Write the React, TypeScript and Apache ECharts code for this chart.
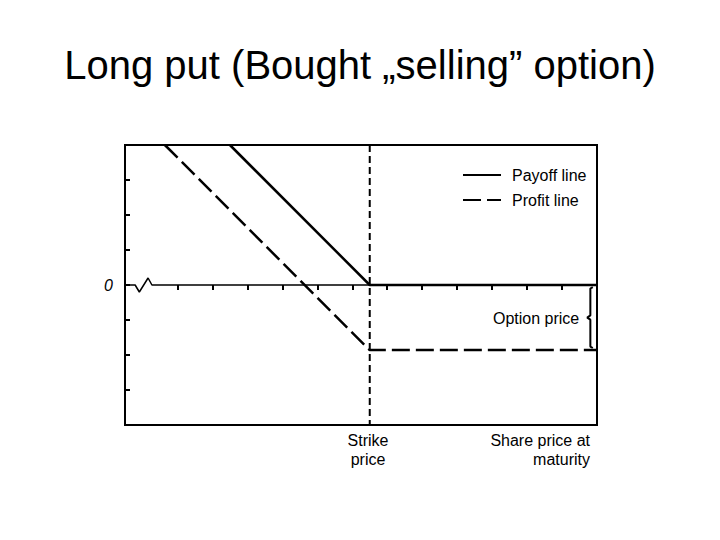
import React, { useEffect, useRef } from "react";
import * as echarts from "echarts";

// ---- data ----
const titleText = "Long put (Bought \u201Eselling\u201D option)";
const strikePrice = 7;
const optionPrice = 1.86;
const xRange = [0, 13.5];
const yRange = [-4, 4];
const xTickValues = [1.5, 2.5, 3.5, 4.5, 5.5, 6.5, 7.5, 8.5, 9.5, 10.5, 11.5, 12.5];
const payoffLine = [
  [3, 4],
  [7, 0],
  [13.5, 0],
];
const profitLine = [
  [1.14, 4],
  [7, -1.86],
  [13.5, -1.86],
];
// the broken start of the zero line (axis break squiggle)
const zeroLine = [
  [0, 0],
  [0.29, 0],
  [0.41, -0.2],
  [0.66, 0.2],
  [0.77, 0],
  [13.5, 0],
];
const strikeLine = [
  [7, 4],
  [7, -4],
];
const seriesNames = ["Payoff line", "Profit line"];
const xLabels = ["Strike\nprice", "Share price at\nmaturity"];
const bracketLabel = "Option price";

const FONT = "'Liberation Sans', Arial, sans-serif";

export default function App() {
  const ref = useRef<HTMLDivElement>(null);
  useEffect(() => {
    document.body.style.margin = "0";
    const chart = echarts.init(ref.current!, null, { renderer: "svg" });
    const bx = 13.31;
    const bracket = [
      [bx + 0.07, -0.06],
      [bx, -0.1],
      [bx, -optionPrice / 2 + 0.06],
      [bx - 0.09, -optionPrice / 2],
      [bx, -optionPrice / 2 - 0.06],
      [bx, -optionPrice + 0.1],
      [bx + 0.07, -optionPrice + 0.06],
    ];
    chart.setOption({
      animation: false,
      title: {
        text: titleText,
        left: "center",
        top: 40,
        textStyle: { fontFamily: FONT, fontSize: 40, fontWeight: "normal", color: "#000" },
      },
      grid: {
        left: 125,
        top: 145,
        right: 123,
        bottom: 115,
        show: true,
        borderColor: "#000",
        borderWidth: 2,
        backgroundColor: "#fff",
      },
      legend: {
        data: seriesNames,
        orient: "vertical",
        left: 457,
        top: 162,
        itemWidth: 38,
        itemHeight: 14,
        itemGap: 9,
        itemStyle: { opacity: 0, borderWidth: 0 },
        textStyle: { fontFamily: FONT, fontSize: 16, color: "#000", padding: [0, 0, 0, 6] },
      },
      xAxis: {
        type: "value",
        min: xRange[0],
        max: xRange[1],
        axisLine: { show: false, onZero: true },
        axisTick: {
          show: true,
          customValues: xTickValues,
          length: 5,
          lineStyle: { color: "#000", width: 2 },
        },
        axisLabel: { show: false },
        splitLine: { show: false },
      },
      yAxis: {
        type: "value",
        min: yRange[0],
        max: yRange[1],
        interval: 1,
        axisLine: { show: false },
        axisTick: { show: true, inside: true, length: 5, lineStyle: { color: "#000", width: 2 } },
        axisLabel: {
          margin: 12,
          fontFamily: FONT,
          fontSize: 16,
          fontStyle: "italic",
          color: "#000",
          formatter: (v: number) => (v === 0 ? "0" : ""),
        },
        splitLine: { show: false },
      },
      series: [
        {
          name: "zero",
          type: "line",
          data: zeroLine,
          symbol: "none",
          silent: true,
          lineStyle: { color: "#000", width: 1.5 },
        },
        {
          name: "strike",
          type: "line",
          data: strikeLine,
          symbol: "none",
          silent: true,
          lineStyle: { color: "#000", width: 2, type: [7, 4] },
        },
        {
          name: seriesNames[0],
          type: "line",
          data: payoffLine,
          symbol: "none",
          itemStyle: { color: "#000" },
          lineStyle: { color: "#000", width: 2.5 },
        },
        {
          name: seriesNames[1],
          type: "line",
          data: profitLine,
          symbol: "none",
          itemStyle: { color: "#000" },
          lineStyle: { color: "#000", width: 2.5, type: [18, 6] },
        },
        {
          name: "bracket",
          type: "line",
          data: bracket,
          symbol: "none",
          silent: true,
          lineStyle: { color: "#000", width: 2 },
        },
      ],
      graphic: [
        {
          type: "text",
          left: 493,
          top: 310,
          style: { text: bracketLabel, font: `16px ${FONT}`, fill: "#000" },
        },
        {
          type: "text",
          x: 368,
          y: 431,
          style: { text: xLabels[0], font: `16px ${FONT}`, fill: "#000", align: "center", lineHeight: 19 },
        },
        {
          type: "text",
          x: 590,
          y: 431,
          style: { text: xLabels[1], font: `16px ${FONT}`, fill: "#000", align: "right", lineHeight: 19 },
        },
      ],
    });
    return () => chart.dispose();
  }, []);
  return <div ref={ref} style={{ width: 720, height: 540, background: "#fff" }} />;
}
